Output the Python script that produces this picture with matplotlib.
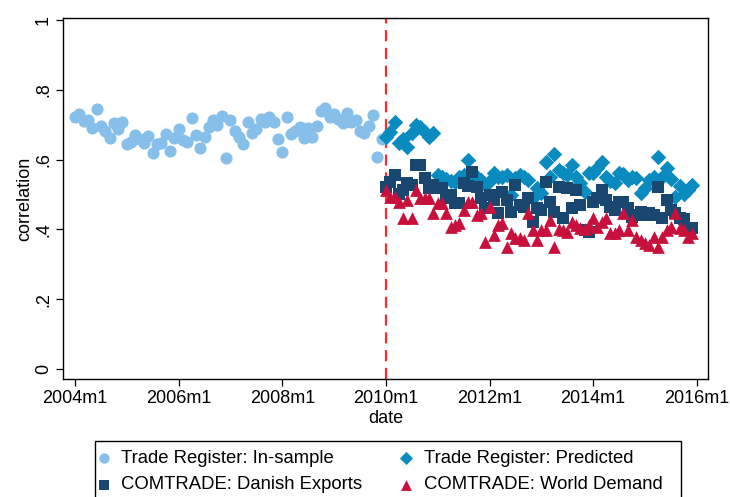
import numpy as np
import matplotlib
matplotlib.use('Agg')
from matplotlib import pyplot as plt
from matplotlib import patches

plt.rcParams['font.family'] = ['Liberation Sans', 'DejaVu Sans']

# months counted from 2004m1 (= 0)
TICK_MONTHS = [0, 24, 48, 72, 96, 120, 144]
TICK_LABELS = ['2004m1', '2006m1', '2008m1', '2010m1', '2012m1', '2014m1', '2016m1']
Y_TICKS = [0, 0.2, 0.4, 0.6, 0.8, 1.0]
Y_LABELS = ['0', '.2', '.4', '.6', '.8', '1']
BREAK_MONTH = 72  # 2010m1

# Trade Register: In-sample, 2004m1 - 2009m12
in_sample = [
    0.723, 0.731, 0.711, 0.713, 0.691, 0.744, 0.696, 0.683, 0.663, 0.704, 0.687, 0.709,
    0.645, 0.651, 0.670, 0.658, 0.648, 0.669, 0.620, 0.645, 0.648, 0.673, 0.625, 0.663,
    0.688, 0.656, 0.650, 0.720, 0.670, 0.634, 0.664, 0.692, 0.712, 0.698, 0.725, 0.604,
    0.713, 0.683, 0.666, 0.646, 0.707, 0.677, 0.687, 0.716, 0.709, 0.723, 0.707, 0.659,
    0.621, 0.723, 0.672, 0.682, 0.692, 0.663, 0.690, 0.666, 0.697, 0.739, 0.747, 0.723,
    0.731, 0.715, 0.704, 0.733, 0.707, 0.712, 0.682, 0.675, 0.697, 0.728, 0.608, 0.658,
]

# 2010m1 - 2015m12
predicted = [
    0.666, 0.680, 0.709, 0.647, 0.660, 0.637, 0.675, 0.699, 0.694, 0.680, 0.666, 0.675,
    0.556, 0.551, 0.545, 0.540, 0.535, 0.550, 0.556, 0.599, 0.560, 0.551, 0.542, 0.527,
    0.540, 0.561, 0.550, 0.551, 0.556, 0.499, 0.546, 0.556, 0.550, 0.542, 0.489, 0.520,
    0.503, 0.594, 0.550, 0.616, 0.570, 0.561, 0.555, 0.585, 0.550, 0.532, 0.508, 0.561,
    0.561, 0.575, 0.594, 0.551, 0.540, 0.532, 0.561, 0.560, 0.542, 0.550, 0.546, 0.503,
    0.520, 0.542, 0.551, 0.608, 0.551, 0.577, 0.543, 0.494, 0.523, 0.500, 0.513, 0.527,
]

danish_exports = [
    0.522, 0.537, 0.556, 0.500, 0.513, 0.532, 0.527, 0.585, 0.585, 0.546, 0.518, 0.528,
    0.518, 0.518, 0.489, 0.499, 0.475, 0.475, 0.532, 0.524, 0.565, 0.522, 0.489, 0.460,
    0.499, 0.484, 0.446, 0.508, 0.484, 0.451, 0.527, 0.470, 0.465, 0.489, 0.422, 0.460,
    0.456, 0.537, 0.479, 0.451, 0.522, 0.432, 0.518, 0.460, 0.513, 0.470, 0.398, 0.393,
    0.479, 0.489, 0.513, 0.484, 0.465, 0.456, 0.479, 0.479, 0.460, 0.436, 0.440, 0.451,
    0.440, 0.446, 0.440, 0.522, 0.432, 0.484, 0.456, 0.446, 0.432, 0.430, 0.403, 0.403,
]

world_demand = [
    0.513, 0.494, 0.494, 0.479, 0.432, 0.484, 0.432, 0.513, 0.489, 0.490, 0.489, 0.446,
    0.475, 0.475, 0.446, 0.408, 0.413, 0.417, 0.456, 0.479, 0.479, 0.441, 0.446, 0.365,
    0.465, 0.384, 0.413, 0.417, 0.350, 0.389, 0.374, 0.374, 0.370, 0.446, 0.398, 0.370,
    0.398, 0.398, 0.427, 0.350, 0.400, 0.398, 0.393, 0.422, 0.413, 0.403, 0.400, 0.413,
    0.432, 0.408, 0.420, 0.432, 0.389, 0.389, 0.398, 0.446, 0.398, 0.427, 0.379, 0.370,
    0.360, 0.355, 0.379, 0.350, 0.379, 0.398, 0.408, 0.446, 0.403, 0.398, 0.379, 0.389,
]

months_in = np.arange(len(in_sample))
months_out = np.arange(len(predicted)) + 72

W, H = 730, 497
fig = plt.figure(figsize=(W / 100, H / 100), dpi=100)
ax = fig.add_axes([63 / W, 1 - 379 / H, 645 / W, 361 / H])

ax.axvline(BREAK_MONTH, color='#FF2A2A', linestyle=(0, (5, 3)), linewidth=1.6, zorder=1)

h_in = ax.scatter(months_in, in_sample, marker='o', s=76, color='#85BFEA', linewidths=0,
                  label='Trade Register: In-sample', zorder=2)
h_pr = ax.scatter(months_out, predicted, marker='D', s=62, color='#0A8BC0', linewidths=0,
                  label='Trade Register: Predicted', zorder=2)
h_dk = ax.scatter(months_out, danish_exports, marker='s', s=64, color='#1A476F', linewidths=0,
                  label='COMTRADE: Danish Exports', zorder=3)
h_wd = ax.scatter(months_out, world_demand, marker='^', s=84, color='#C8103C', linewidths=0,
                  label='COMTRADE: World Demand', zorder=4)

ax.set_xlim(-2.78, 146.6)
ax.set_ylim(-0.0287, 1.0057)
ax.set_xticks(TICK_MONTHS)
ax.set_xticklabels(TICK_LABELS)
ax.set_yticks(Y_TICKS)
ax.set_yticklabels(Y_LABELS, rotation=90, va='center')
ax.tick_params(axis='both', labelsize=13, length=5, width=0.9, pad=3, colors='black')
for s in ax.spines.values():
    s.set_linewidth(1.0)

ax.set_xlabel('date', fontsize=13, labelpad=2)
ax.set_ylabel('correlation', fontsize=13, labelpad=1)

# legend frame (bottom edge runs off the image, as in the original)
fig.patches.append(patches.Rectangle((95 / W, -0.05), (681 - 95) / W, 0.05 + 1 - 441 / H,
                                     transform=fig.transFigure, fill=False,
                                     edgecolor='black', linewidth=1.0))

fig.legend([h_in, h_dk, h_pr, h_wd],
           ['Trade Register: In-sample', 'COMTRADE: Danish Exports',
            'Trade Register: Predicted', 'COMTRADE: World Demand'],
           loc='upper left', bbox_to_anchor=(89 / W, 1 - 441 / H), ncol=2,
           fontsize=13.3, frameon=False, borderaxespad=0, borderpad=0.5,
           handletextpad=0.65, columnspacing=2.06, labelspacing=0.5,
           handlelength=0.6, scatterpoints=1, markerscale=0.85)

fig.savefig('out.png', dpi=100)
